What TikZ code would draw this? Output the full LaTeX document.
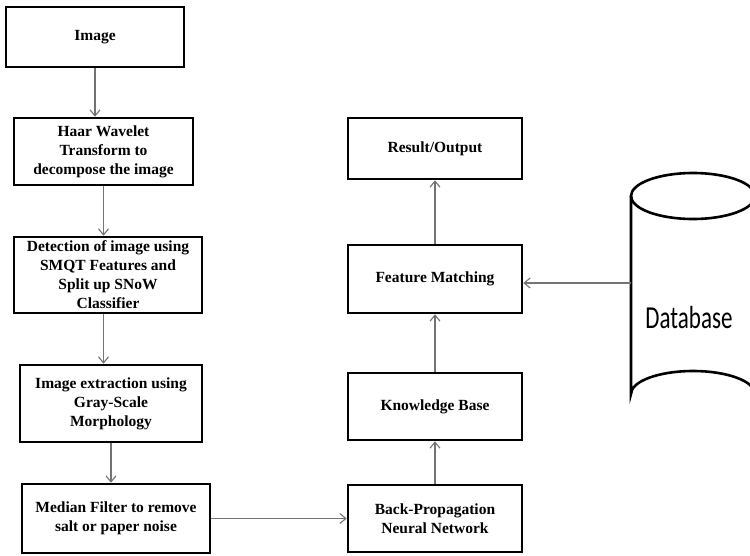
\documentclass[tikz,border=0pt]{standalone}
\usepackage{graphicx}
\usepackage{fontspec}
\setmainfont{Liberation Serif}
\newfontfamily\dbfont{Carlito}
\usetikzlibrary{arrows.meta}
\begin{document}
\begin{tikzpicture}[x=1pt,y=-1pt,
  box/.style={draw=black,line width=2.6pt,fill=white,inner sep=0pt,
    font=\bfseries\fontsize{15.5}{19}\selectfont,align=center},
  flow/.style={draw=black!55,line width=1.3pt,
    -{Straight Barb[length=6pt,width=10pt,line width=1.1pt]}}]
\useasboundingbox (0,0) rectangle (750,555);
\fill[white] (0,0) rectangle (750,555);

% left column
\node[box,minimum width=178pt,minimum height=60pt] (img) at (95,37) {Image};
\node[box,minimum width=179pt,minimum height=67pt] (haar) at (103.5,151.5)
  {Haar Wavelet\\Transform to\\decompose the image};
\node[box,minimum width=188pt,minimum height=76pt] (det) at (108,275)
  {Detection of image using\\SMQT Features and\\Split up SNoW\\Classifier};
\node[box,minimum width=182pt,minimum height=77pt] (ext) at (111,403.5)
  {Image  extraction using\\Gray-Scale\\Morphology};
\node[box,minimum width=188pt,minimum height=69pt] (med) at (116,518.5)
  {Median Filter to remove\\salt or paper noise};

% right column
\node[box,minimum width=174pt,minimum height=61pt] (res) at (435,148.5) {Result/Output};
\node[box,minimum width=174pt,minimum height=68pt] (fm) at (435,279) {Feature Matching};
\node[box,minimum width=174pt,minimum height=67pt] (kb) at (435,406.5) {Knowledge Base};
\node[box,minimum width=174pt,minimum height=67pt] (bp) at (435,518.5)
  {Back-Propagation\\Neural Network};

% database cylinder
\begin{scope}
\clip (0,0) rectangle (750,555);
\fill[white] (631,196) -- (631,394) arc[start angle=180,end angle=360,x radius=62,y radius=23]
  -- (755,196) arc[start angle=0,end angle=180,x radius=62,y radius=23] -- cycle;
\draw[line width=2.6pt] (693,196) ellipse[x radius=62,y radius=23];
\draw[line width=2.6pt] (631,196) -- (631,394)
  arc[start angle=180,end angle=360,x radius=62,y radius=23] -- (755,196);
\end{scope}
\node[font=\dbfont\fontsize{32}{36}\selectfont,inner sep=0pt] (db) at (689,318)
  {\scalebox{0.72}[1]{Database}};
\coordinate (dbl) at (631,283);

% connectors
\draw[flow] (img.south) -- (haar.north -| img.south);
\draw[flow] (haar.south) -- (det.north -| haar.south);
\draw[flow] (det.south -| haar.south) -- (ext.north -| haar.south);
\draw[flow] (ext.south) -- (med.north -| ext.south);
\draw[flow] (med.east) -- (bp.west);
\draw[flow] (bp.north) -- (kb.south);
\draw[flow] (kb.north) -- (fm.south);
\draw[flow] (fm.north) -- (res.south);
\draw[flow] (dbl) -- (fm.east |- dbl);
\end{tikzpicture}
\end{document}
